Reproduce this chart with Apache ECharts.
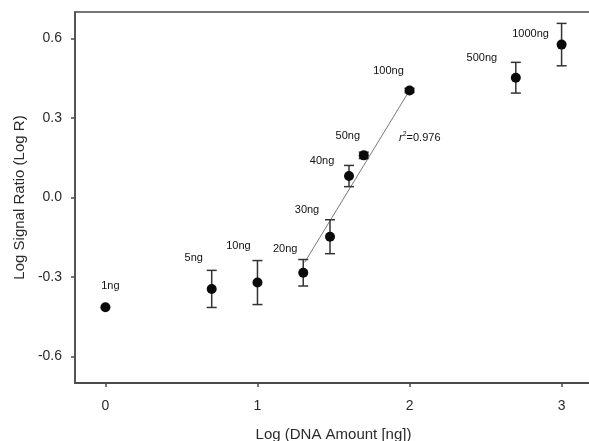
<!DOCTYPE html>
<html>
<head>
<meta charset="utf-8">
<script src="https://cdn.jsdelivr.net/npm/echarts@6/dist/echarts.min.js"></script>
<style>
  html, body { margin: 0; padding: 0; background: #fff; }
  #main { width: 589px; height: 441px; }
</style>
</head>
<body>
<div id="main"></div>
<script>
// log10 of DNA amount, point labels, log signal ratio and error (+/-)
const labels = ['1ng', '5ng', '10ng', '20ng', '30ng', '40ng', '50ng', '100ng', '500ng', '1000ng'];
const logDna = [0, 0.699, 1, 1.301, 1.477, 1.602, 1.699, 2, 2.699, 3];
const logR = [-0.414, -0.345, -0.321, -0.284, -0.148, 0.081, 0.159, 0.404, 0.452, 0.577];
const errR = [0, 0.07, 0.083, 0.05, 0.064, 0.04, 0.012, 0.008, 0.058, 0.08];
// regression line end points (20ng .. 100ng)
const fitX = [1.31, 2.0];
const fitY = [-0.245, 0.404];
const xTicks = [0, 1, 2, 3];
const yTicks = [-0.6, -0.3, 0, 0.3, 0.6];

// label offsets in px from point centre
const labelOffsets = [[5, -21], [-18, -31], [-19, -37], [-18, -24], [-23, -27],
    [-27, -15], [-16, -19], [-21, -19], [-34, -20], [-31, -11]];

const textColor = '#2b2b2b';
const axisColor = '#4a4a4a';

const pointData = logDna.map(function (x, i) {
    return {
        value: [x, logR[i]],
        label: { offset: labelOffsets[i] }
    };
});
const errData = logDna.map(function (x, i) {
    return [x, logR[i] - errR[i], logR[i] + errR[i]];
}).filter(function (d) { return d[2] - d[1] > 0; });
const fitData = fitX.map(function (x, i) { return [x, fitY[i]]; });

const myChart = echarts.init(document.getElementById('main'));
const option = {
    animation: false,
    backgroundColor: '#fff',
    grid: {
        left: 75, top: 12, width: 517, height: 371,
        outerBoundsMode: 'none',
        containLabel: false,
        show: true, borderColor: axisColor, borderWidth: 1.5
    },
    xAxis: {
        type: 'value',
        min: -0.2, max: 3.2,
        name: 'Log (DNA Amount [ng])',
        nameLocation: 'middle',
        nameGap: 44,
        nameTextStyle: { fontFamily: 'Liberation Sans, Arial', fontSize: 15, color: textColor },
        splitLine: { show: false },
        axisLine: { onZero: false, lineStyle: { color: axisColor, width: 2 } },
        axisTick: { customValues: xTicks, length: 4, lineStyle: { color: axisColor, width: 1.5 } },
        axisLabel: {
            customValues: xTicks, margin: 16,
            fontFamily: 'Liberation Sans, Arial', fontSize: 14, color: textColor
        }
    },
    yAxis: {
        type: 'value',
        min: -0.7, max: 0.7,
        name: 'Log Signal Ratio (Log R)',
        nameLocation: 'middle',
        nameGap: 48,
        nameTextStyle: { fontFamily: 'Liberation Sans, Arial', fontSize: 15, color: textColor },
        splitLine: { show: false },
        axisLine: { onZero: false, lineStyle: { color: axisColor, width: 1.5 } },
        axisTick: { customValues: yTicks, length: 4, lineStyle: { color: axisColor, width: 1.5 } },
        axisLabel: {
            customValues: yTicks, margin: 13,
            fontFamily: 'Liberation Sans, Arial', fontSize: 14, color: textColor,
            formatter: function (v) { return v.toFixed(1); }
        }
    },
    graphic: [{
        type: 'text',
        left: 399, top: 131,
        style: {
            text: '{i|r}{s|2}{n|=0.976}',
            rich: {
                i: { fontFamily: 'Liberation Sans, Arial', fontStyle: 'italic', fontSize: 11, fill: '#111' },
                s: { fontFamily: 'Liberation Sans, Arial', fontSize: 7, fill: '#111', verticalAlign: 'top', padding: [0, 0, 6, 0] },
                n: { fontFamily: 'Liberation Sans, Arial', fontSize: 11, fill: '#111' }
            }
        }
    }],
    series: [
        {
            name: 'fit',
            type: 'line',
            data: fitData,
            symbol: 'none',
            lineStyle: { color: '#7a7a7a', width: 1 },
            z: 1
        },
        {
            name: 'error',
            type: 'custom',
            data: errData,
            z: 2,
            renderItem: function (params, api) {
                const x = api.value(0);
                const lo = api.coord([x, api.value(1)]);
                const hi = api.coord([x, api.value(2)]);
                const w = 5;
                const style = { stroke: '#333', lineWidth: 1.5 };
                return {
                    type: 'group',
                    children: [
                        { type: 'line', shape: { x1: lo[0], y1: lo[1], x2: hi[0], y2: hi[1] }, style: style },
                        { type: 'line', shape: { x1: lo[0] - w, y1: lo[1], x2: lo[0] + w, y2: lo[1] }, style: style },
                        { type: 'line', shape: { x1: hi[0] - w, y1: hi[1], x2: hi[0] + w, y2: hi[1] }, style: style }
                    ]
                };
            }
        },
        {
            name: 'points',
            type: 'scatter',
            data: pointData,
            symbol: 'circle',
            symbolSize: 10,
            itemStyle: { color: '#0a0a0a', opacity: 1 },
            z: 3,
            label: {
                show: true,
                position: 'inside',
                align: 'center',
                verticalAlign: 'middle',
                fontFamily: 'Liberation Sans, Arial',
                fontSize: 11,
                color: '#111',
                textBorderWidth: 0,
                formatter: function (p) { return labels[p.dataIndex]; }
            }
        }
    ]
};
myChart.setOption(option);
</script>
</body>
</html>
